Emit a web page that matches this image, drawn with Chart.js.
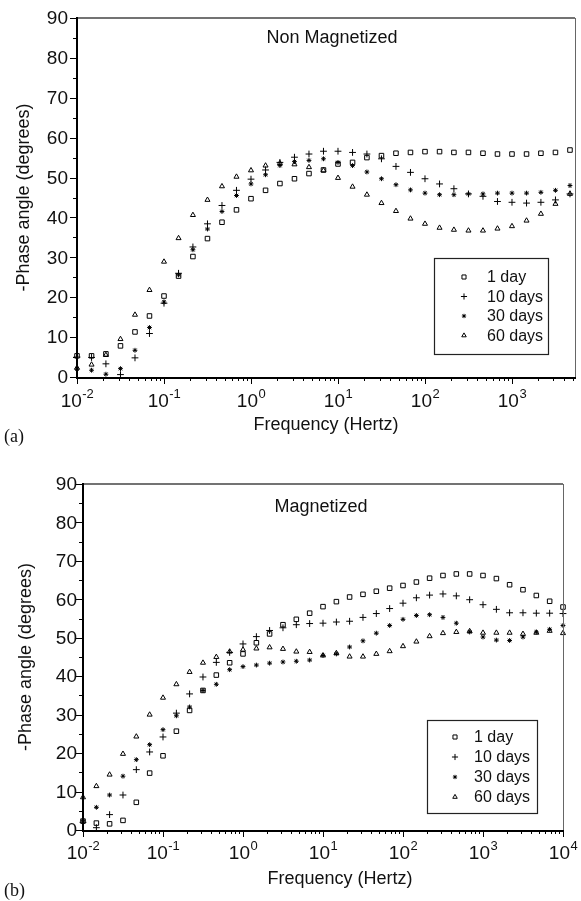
<!DOCTYPE html>
<html>
<head>
<meta charset="utf-8">
<script src="https://cdn.jsdelivr.net/npm/chart.js@4.4.1/dist/chart.umd.min.js"></script>
<style>
  html, body { margin: 0; padding: 0; background: #fff; }
  #wrap { position: relative; width: 581px; height: 901px; }
  canvas { position: absolute; left: 0; }
  #chartA { top: 0; }
  #chartB { top: 450px; }
</style>
</head>
<body>
<div id="wrap">
  <canvas id="chartA" width="581" height="450"></canvas>
  <canvas id="chartB" width="581" height="451"></canvas>
</div>
<script>
// series names (legend)
const seriesLabels = ["1 day", "10 days", "30 days", "60 days"];

// frequencies (Hz), 6 points per decade
const freqA = [0.01, 0.0147, 0.0215, 0.0316, 0.0464, 0.0681, 0.1, 0.147, 0.215, 0.316, 0.464, 0.681,
  1, 1.47, 2.15, 3.16, 4.64, 6.81, 10, 14.7, 21.5, 31.6, 46.4, 68.1, 100, 147, 215, 316, 464, 681,
  1000, 1470, 2150, 3160, 4640];
const freqB = [0.01, 0.0147, 0.0215, 0.0316, 0.0464, 0.0681, 0.1, 0.147, 0.215, 0.316, 0.464, 0.681,
  1, 1.47, 2.15, 3.16, 4.64, 6.81, 10, 14.7, 21.5, 31.6, 46.4, 68.1, 100, 147, 215, 316, 464, 681,
  1000, 1470, 2150, 3160, 4640, 6810, 10000];

// (a) non magnetized, -phase angle (degrees)
const nm1Day = [5.3, 5.3, 5.8, 7.8, 11.3, 15.3, 20.3, 25.3, 30.2, 34.7, 38.8, 41.9, 44.7, 46.8, 48.5, 49.7,
  51.0, 51.9, 53.4, 53.8, 55.0, 55.5, 56.1, 56.3, 56.5, 56.5, 56.3, 56.3, 56.1, 55.9, 55.9, 55.9, 56.1, 56.3, 56.9];
const nm10Days = [5.0, 4.9, 3.3, 0.6, 4.8, 10.9, 18.5, 26.0, 32.6, 38.4, 43.0, 46.8, 49.6, 51.9, 53.8, 55.1,
  55.9, 56.6, 56.6, 56.3, 55.9, 54.7, 52.8, 51.3, 49.7, 48.4, 47.2, 45.9, 45.3, 44.0, 43.8, 43.6, 43.8, 44.4, 45.9];
const nm30Days = [2.0, 1.7, 0.7, 2.1, 6.7, 12.4, 18.8, 25.6, 31.9, 37.1, 41.5, 45.5, 48.4, 50.7, 53.0, 54.0,
  54.3, 54.7, 53.8, 53.0, 51.4, 49.7, 48.2, 46.9, 46.1, 45.7, 45.7, 45.9, 45.9, 46.1, 46.1, 46.1, 46.3, 46.8, 48.0];
const nm60Days = [2.3, 3.1, 5.5, 9.5, 15.6, 21.8, 28.9, 34.8, 40.6, 44.4, 47.8, 50.2, 51.8, 53.0, 53.6, 53.3,
  52.6, 51.8, 49.9, 47.7, 45.7, 43.6, 41.6, 39.7, 38.4, 37.4, 36.9, 36.7, 36.7, 37.2, 37.8, 39.2, 40.9, 43.4, 45.9];

// (b) magnetized
const m1Day = [2.3, 1.8, 1.6, 2.5, 7.2, 14.8, 19.3, 25.7, 31.1, 36.3, 40.3, 43.5, 45.8, 48.7, 51.0, 53.4,
  54.8, 56.4, 58.1, 59.4, 60.6, 61.3, 62.1, 62.9, 63.6, 64.5, 65.5, 66.2, 66.6, 66.6, 66.2, 65.4, 63.8,
  62.5, 61.0, 59.5, 58.0];
const m10Days = [2.0, 0.6, 4.0, 9.1, 15.7, 20.3, 24.2, 30.4, 35.4, 39.8, 43.6, 46.2, 48.4, 50.3, 51.9, 52.6,
  53.4, 53.7, 53.8, 54.1, 54.3, 55.3, 56.3, 57.6, 59.0, 60.4, 61.1, 61.4, 60.9, 59.9, 58.6, 57.4, 56.5,
  56.5, 56.4, 56.4, 56.3];
const m30Days = [2.5, 5.9, 9.1, 14.0, 18.3, 22.2, 26.1, 29.7, 32.0, 36.3, 37.9, 41.7, 42.5, 42.9, 43.4, 43.7,
  43.9, 44.2, 45.4, 45.8, 47.6, 49.2, 51.2, 53.2, 54.8, 55.8, 56.0, 55.3, 53.8, 51.5, 50.2, 49.4, 49.3,
  50.2, 51.5, 52.2, 53.2];
const m60Days = [8.5, 11.4, 14.4, 19.8, 24.3, 30.0, 34.4, 37.9, 41.1, 43.5, 45.0, 46.4, 46.9, 47.2, 47.5, 47.1,
  46.4, 46.3, 45.4, 46.0, 45.1, 45.1, 45.8, 46.5, 47.8, 49.0, 50.4, 51.2, 51.5, 51.7, 51.3, 51.3, 51.3,
  51.0, 51.3, 51.8, 51.2];

const yTicks = [0, 10, 20, 30, 40, 50, 60, 70, 80, 90];
const xTickExpA = [-2, -1, 0, 1, 2, 3];
const xTickExpB = [-2, -1, 0, 1, 2, 3, 4];

const markerStyles = ["rect", "cross", "star", "triangle"];
const markerRadius = [3.2, 3.4, 2.4, 2.9];

const SANS = '"Liberation Sans", Arial, Helvetica, sans-serif';
const SERIF = '"Liberation Serif", "Times New Roman", serif';

function drawMarker(ctx, style, x, y, r) {
  ctx.beginPath();
  if (style === "rect") {
    const s = r * Math.SQRT1_2;
    ctx.rect(x - s, y - s, 2 * s, 2 * s);
  } else if (style === "cross") {
    ctx.moveTo(x - r, y); ctx.lineTo(x + r, y);
    ctx.moveTo(x, y - r); ctx.lineTo(x, y + r);
  } else if (style === "star") {
    const d = r * Math.SQRT1_2;
    ctx.moveTo(x - r, y); ctx.lineTo(x + r, y);
    ctx.moveTo(x, y - r); ctx.lineTo(x, y + r);
    ctx.moveTo(x - d, y - d); ctx.lineTo(x + d, y + d);
    ctx.moveTo(x - d, y + d); ctx.lineTo(x + d, y - d);
  } else {
    for (let i = 0; i < 3; i++) {
      const a = i * 2 * Math.PI / 3;
      const px = x + Math.sin(a) * r, py = y - Math.cos(a) * r;
      i ? ctx.lineTo(px, py) : ctx.moveTo(px, py);
    }
    ctx.closePath();
  }
  ctx.stroke();
}

// axes, ticks, labels, legend box drawn on top of the library's scales
function axesPlugin(cfg) {
  return {
    id: "axes",
    afterDraw(chart) {
      const { ctx, chartArea: a, scales: { x, y } } = chart;
      ctx.save();
      ctx.lineCap = "butt";

      // thin frame top/right
      ctx.strokeStyle = "#444";
      ctx.lineWidth = 1.5;
      ctx.beginPath();
      ctx.moveTo(a.left, a.top);
      ctx.lineTo(a.right, a.top);
      ctx.stroke();
      ctx.strokeStyle = "#666";
      ctx.lineWidth = 1;
      ctx.beginPath();
      ctx.moveTo(a.right + 0.5, a.top);
      ctx.lineTo(a.right + 0.5, a.bottom);
      ctx.stroke();

      // y ticks and labels
      ctx.strokeStyle = "#000";
      ctx.lineWidth = 1;
      for (let v = 0; v <= 90; v += 5) {
        const py = Math.round(y.getPixelForValue(v)) + 0.5;
        const len = v % 10 === 0 ? 7 : 4;
        ctx.beginPath();
        ctx.moveTo(a.left - len, py);
        ctx.lineTo(a.left, py);
        ctx.stroke();
      }
      ctx.fillStyle = "#111";
      ctx.font = "19px " + SANS;
      ctx.textAlign = "right";
      ctx.textBaseline = "middle";
      yTicks.forEach(v => ctx.fillText(String(v), a.left - cfg.yLabelGap, y.getPixelForValue(v) + 1));

      // x ticks (log, major + minor)
      const xmax = x.max;
      for (let e = -2; e <= 4; e++) {
        for (let m = 1; m <= 9; m++) {
          const f = m * Math.pow(10, e);
          if (f > xmax * 1.0001) continue;
          const px = Math.round(x.getPixelForValue(f)) + 0.5;
          const len = m === 1 ? 7 : 4;
          ctx.beginPath();
          ctx.moveTo(px, a.bottom);
          ctx.lineTo(px, a.bottom + len);
          ctx.stroke();
        }
      }

      // thick left / bottom axis lines
      ctx.lineWidth = 2;
      ctx.beginPath();
      ctx.moveTo(a.left, a.top - 1);
      ctx.lineTo(a.left, a.bottom + 1);
      ctx.lineTo(a.right + 1, a.bottom + 1);
      ctx.stroke();

      // x tick labels 10^n
      ctx.textAlign = "left";
      ctx.textBaseline = "alphabetic";
      cfg.xTickExp.forEach(e => {
        const px = x.getPixelForValue(Math.pow(10, e));
        ctx.font = "19px " + SANS;
        const w1 = ctx.measureText("10").width;
        ctx.font = "13px " + SANS;
        const w2 = ctx.measureText(String(e)).width;
        const x0 = px - (w1 + w2) / 2;
        ctx.font = "19px " + SANS;
        ctx.fillText("10", x0, cfg.xLabelBase);
        ctx.font = "13px " + SANS;
        ctx.fillText(String(e), x0 + w1 + 0.5, cfg.xLabelBase - 9);
      });

      // axis titles
      ctx.font = "18px " + SANS;
      ctx.textAlign = "center";
      ctx.fillText("Frequency (Hertz)", cfg.xTitleX, cfg.xTitleBase);
      ctx.save();
      ctx.translate(cfg.yTitleX, (a.top + a.bottom) / 2);
      ctx.rotate(-Math.PI / 2);
      ctx.textBaseline = "middle";
      ctx.fillText("-Phase angle (degrees)", 0, 0);
      ctx.restore();

      // panel title inside plot
      ctx.font = "18px " + SANS;
      ctx.textBaseline = "middle";
      ctx.fillText(cfg.title, cfg.titleX, cfg.titleY);

      // panel tag
      ctx.font = "18px " + SERIF;
      ctx.textAlign = "left";
      ctx.textBaseline = "alphabetic";
      ctx.fillText(cfg.tag, 4, cfg.tagBase);

      // legend box
      const L = cfg.legend;
      ctx.strokeStyle = "#222";
      ctx.lineWidth = 1.2;
      ctx.strokeRect(L.x + 0.5, L.y + 0.5, L.w, L.h);
      ctx.lineWidth = 1;
      ctx.strokeStyle = "#000";
      ctx.font = "16px " + SANS;
      ctx.textBaseline = "middle";
      seriesLabels.forEach((lab, i) => {
        const ly = L.y + L.row0 + i * L.rowH;
        drawMarker(ctx, markerStyles[i], L.x + L.sym, ly, markerRadius[i] * 0.9);
        ctx.fillText(lab, L.x + L.text, ly + 1);
      });

      ctx.restore();
    }
  };
}

function makeChart(id, freq, series, cfg) {
  return new Chart(document.getElementById(id), {
    type: "scatter",
    data: {
      datasets: series.map((vals, i) => ({
        label: seriesLabels[i],
        data: freq.map((f, j) => ({ x: f, y: vals[j] })),
        pointStyle: markerStyles[i],
        pointRadius: markerRadius[i],
        pointHoverRadius: markerRadius[i],
        borderColor: "#000",
        backgroundColor: "rgba(0,0,0,0)",
        borderWidth: 1,
        clip: false,
      })),
    },
    options: {
      responsive: false,
      animation: false,
      events: [],
      layout: { padding: cfg.padding },
      plugins: { legend: { display: false }, tooltip: { enabled: false } },
      scales: {
        x: { type: "logarithmic", min: 0.01, max: cfg.xMax, display: false },
        y: { type: "linear", min: 0, max: 90, display: false },
      },
    },
    plugins: [axesPlugin(cfg)],
  });
}

makeChart("chartA", freqA, [nm1Day, nm10Days, nm30Days, nm60Days], {
  padding: { left: 77, top: 18, right: 6, bottom: 73 },
  xMax: 5300,
  xTickExp: xTickExpA,
  yLabelGap: 9,
  xLabelBase: 407,
  xTitleX: 326,
  xTitleBase: 430,
  yTitleX: 24,
  title: "Non Magnetized",
  titleX: 332,
  titleY: 38,
  tag: "(a)",
  tagBase: 442,
  legend: { x: 434, y: 258, w: 114, h: 96, sym: 30, text: 53, row0: 19, rowH: 19.5 },
});

makeChart("chartB", freqB, [m1Day, m10Days, m30Days, m60Days], {
  padding: { left: 83, top: 34, right: 18, bottom: 71 },
  xMax: 10000,
  xTickExp: xTickExpB,
  yLabelGap: 6,
  xLabelBase: 409,
  xTitleX: 340,
  xTitleBase: 434,
  yTitleX: 26,
  title: "Magnetized",
  titleX: 321,
  titleY: 57,
  tag: "(b)",
  tagBase: 446,
  legend: { x: 427, y: 270, w: 110, h: 93, sym: 28, text: 47, row0: 17, rowH: 20 },
});
</script>
</body>
</html>
